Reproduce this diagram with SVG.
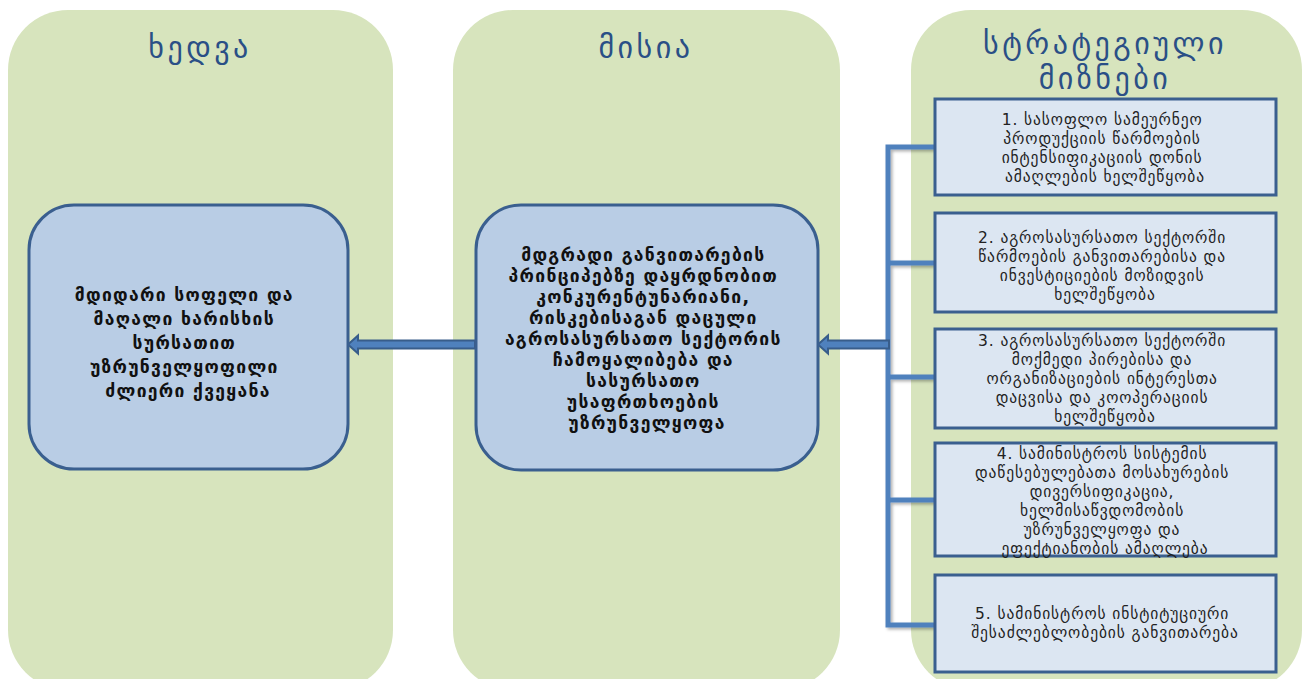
<svg xmlns="http://www.w3.org/2000/svg" width="1304" height="679" viewBox="0 0 1304 679">
<style>
.col{fill:#d7e4bd}
.title{font-family:"DejaVu Sans",sans-serif;font-size:30px;letter-spacing:3.5px;fill:#2a4f86;text-anchor:middle}
.node{fill:#b9cde5;stroke:#3a5f8f;stroke-width:3}
.ntext{font-family:"DejaVu Sans",sans-serif;font-size:17.5px;letter-spacing:1.3px;font-weight:bold;fill:#111;text-anchor:middle}
.box{fill:#dce6f2;stroke:#3a5f8f;stroke-width:3}
.btext{font-family:"DejaVu Sans",sans-serif;font-size:15.5px;letter-spacing:0.9px;fill:#222;text-anchor:middle}
.arrow{fill:#4f81bd;stroke:#385d8a;stroke-width:2}
.br{fill:none;stroke:#4f81bd;stroke-width:5;stroke-linejoin:miter}
</style>
<defs>
<filter id="sh" x="-10%" y="-10%" width="130%" height="130%">
<feDropShadow dx="2" dy="2" stdDeviation="1.5" flood-color="#000" flood-opacity="0.3"/>
</filter>
</defs>
<rect width="1304" height="679" fill="#ffffff"/>
<g id="columns">
<rect class="col" x="8" y="10" width="385" height="680" rx="60" ry="60"/>
<rect class="col" x="453" y="10" width="387" height="680" rx="60" ry="60"/>
<rect class="col" x="911" y="10" width="391" height="680" rx="60" ry="60"/>
</g>
<g id="titles">
<text class="title" x="200" y="58">ხედვა</text>
<text class="title" x="646" y="58">მისია</text>
<text class="title" x="1105" y="54">სტრატეგიული</text>
<text class="title" x="1105" y="89">მიზნები</text>
</g>
<g id="connectors">
<path class="br" filter="url(#sh)" d="M935,147 H888 V625 H935 M888,263 H935 M888,377 H935 M888,500 H935"/>
<polygon class="arrow" points="348,344.5 358,335.5 358,340.5 475,340.5 475,348.5 358,348.5 358,353.5"/>
<polygon class="arrow" points="818,344.5 828,335.5 828,340.5 889,340.5 889,348.5 828,348.5 828,353.5"/>
</g>
<g id="vision">
<rect class="node" x="29" y="205" width="319" height="264" rx="45" ry="45"/>
<text class="ntext">
<tspan x="188" y="301">მდიდარი სოფელი და</tspan>
<tspan x="188" y="325">მაღალი ხარისხის</tspan>
<tspan x="188" y="349">სურსათით</tspan>
<tspan x="188" y="373">უზრუნველყოფილი</tspan>
<tspan x="188" y="397">ძლიერი ქვეყანა</tspan>
</text>
</g>
<g id="mission">
<rect class="node" x="476" y="205" width="342" height="265" rx="45" ry="45"/>
<text class="ntext">
<tspan x="647" y="261">მდგრადი განვითარების</tspan>
<tspan x="647" y="282">პრინციპებზე დაყრდნობით</tspan>
<tspan x="647" y="303">კონკურენტუნარიანი,</tspan>
<tspan x="647" y="324">რისკებისაგან დაცული</tspan>
<tspan x="647" y="345">აგროსასურსათო სექტორის</tspan>
<tspan x="647" y="366">ჩამოყალიბება და</tspan>
<tspan x="647" y="387">სასურსათო</tspan>
<tspan x="647" y="408">უსაფრთხოების</tspan>
<tspan x="647" y="429">უზრუნველყოფა</tspan>
</text>
</g>
<g id="goal1">
<rect class="box" x="935" y="99" width="341" height="96"/>
<text class="btext">
<tspan x="1105" y="125">1. სასოფლო სამეურნეო</tspan>
<tspan x="1105" y="144">პროდუქციის წარმოების</tspan>
<tspan x="1105" y="163">ინტენსიფიკაციის დონის</tspan>
<tspan x="1105" y="182">ამაღლების ხელშეწყობა</tspan>
</text>
</g>
<g id="goal2">
<rect class="box" x="935" y="213" width="341" height="99"/>
<text class="btext">
<tspan x="1105" y="243">2. აგროსასურსათო სექტორში</tspan>
<tspan x="1105" y="262">წარმოების განვითარებისა და</tspan>
<tspan x="1105" y="281">ინვესტიციების  მოზიდვის</tspan>
<tspan x="1105" y="300">ხელშეწყობა</tspan>
</text>
</g>
<g id="goal3">
<rect class="box" x="935" y="329" width="341" height="99"/>
<text class="btext">
<tspan x="1105" y="346">3. აგროსასურსათო სექტორში</tspan>
<tspan x="1105" y="365">მოქმედი პირებისა და</tspan>
<tspan x="1105" y="384">ორგანიზაციების ინტერესთა</tspan>
<tspan x="1105" y="403">დაცვისა და კოოპერაციის</tspan>
<tspan x="1105" y="422">ხელშეწყობა</tspan>
</text>
</g>
<g id="goal4">
<rect class="box" x="935" y="443" width="341" height="113"/>
<text class="btext">
<tspan x="1105" y="459">4. სამინისტროს სისტემის</tspan>
<tspan x="1105" y="478">დაწესებულებათა მოსახურების</tspan>
<tspan x="1105" y="497">დივერსიფიკაცია,</tspan>
<tspan x="1105" y="516">ხელმისაწვდომობის</tspan>
<tspan x="1105" y="535">უზრუნველყოფა და</tspan>
<tspan x="1105" y="554">ეფექტიანობის ამაღლება</tspan>
</text>
</g>
<g id="goal5">
<rect class="box" x="935" y="575" width="341" height="97"/>
<text class="btext">
<tspan x="1105" y="619">5. სამინისტროს ინსტიტუციური</tspan>
<tspan x="1105" y="638">შესაძლებლობების განვითარება</tspan>
</text>
</g>
</svg>
